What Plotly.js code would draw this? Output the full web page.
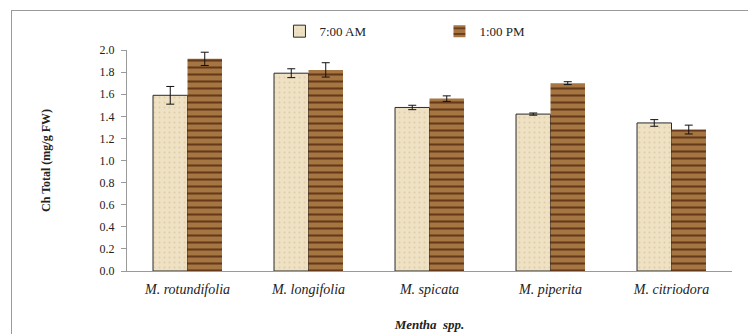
<!DOCTYPE html>
<html>
<head>
<meta charset="utf-8">
<script src="https://cdn.plot.ly/plotly-3.0.1.min.js"></script>
<style>
  html, body { margin: 0; padding: 0; background: #fff; overflow: hidden; }
  #wrap { position: relative; width: 748px; height: 334px; overflow: hidden; }
  #frame { position: absolute; left: 11px; top: 10px; width: 800px; height: 400px; border: 1px solid #9a9a9a; box-sizing: border-box; pointer-events: none; }
  #chart { position: absolute; left: 0; top: 0; width: 748px; height: 334px; }
</style>
</head>
<body>
<div id="wrap">
  <div id="frame"></div>
  <div id="chart"></div>
</div>
<script>
const categories = ["M. rotundifolia", "M. longifolia", "M. spicata", "M. piperita", "M. citriodora"];
const seriesNames = ["7:00 AM", "1:00 PM"];
const am7 = [1.59, 1.79, 1.48, 1.42, 1.34];
const am7Err = [0.08, 0.04, 0.02, 0.01, 0.03];
const pm1 = [1.92, 1.82, 1.56, 1.70, 1.28];
const pm1Err = [0.06, 0.065, 0.025, 0.013, 0.04];
const yTicks = [0, 0.2, 0.4, 0.6, 0.8, 1.0, 1.2, 1.4, 1.6, 1.8, 2.0];

const serif = "Liberation Serif, Times New Roman, serif";

const traces = [
  {
    type: "bar", name: seriesNames[0], x: categories, y: am7,
    marker: { color: "#ecdcbb", line: { color: "#2b2b2b", width: 1 },
      pattern: { shape: ".", fgcolor: "#e0cda8", bgcolor: "#efe1c4", size: 5, solidity: 0.12 } },
    error_y: { type: "data", array: am7Err, visible: true, color: "#111", thickness: 1, width: 4 }
  },
  {
    type: "bar", name: seriesNames[1], x: categories, y: pm1,
    marker: { color: "#9a6434", line: { width: 0 },
      pattern: { shape: "-", fgcolor: "#66391a", bgcolor: "#a67642", size: 7, solidity: 0.3 } },
    error_y: { type: "data", array: pm1Err, visible: true, color: "#111", thickness: 1, width: 4 }
  }
];

const layout = {
  width: 748, height: 334,
  margin: { l: 127, r: 16, t: 50, b: 63 },
  paper_bgcolor: "rgba(0,0,0,0)", plot_bgcolor: "rgba(0,0,0,0)",
  font: { family: serif, color: "#222", size: 12 },
  barmode: "group", bargap: 0.43, bargroupgap: 0,
  showlegend: true,
  legend: {
    orientation: "h", x: 0.252, xanchor: "left", y: 1.085, yanchor: "middle",
    font: { family: serif, size: 13, color: "#222" },
    entrywidth: 115, itemwidth: 30, bgcolor: "rgba(0,0,0,0)"
  },
  xaxis: {
    type: "category", showline: true, linecolor: "#9a9a9a", linewidth: 1,
    ticks: "", showgrid: false, zeroline: false, ticklabelstandoff: 5,
    tickfont: { family: serif, size: 14, style: "italic", color: "#222" },
    title: { text: "<b><i>Mentha  spp.</i></b>", font: { family: serif, size: 13, color: "#222" }, standoff: 24 }
  },
  yaxis: {
    range: [0, 2.0], tickvals: yTicks, ticktext: yTicks.map(v => v.toFixed(1)),
    showline: true, linecolor: "#9a9a9a", linewidth: 1,
    ticks: "outside", ticklen: 5, tickcolor: "#9a9a9a",
    showgrid: false, zeroline: false, ticklabelstandoff: 4,
    tickfont: { family: serif, size: 12, color: "#222" },
    title: { text: "<b>Ch Total (mg/g FW)</b>", font: { family: serif, size: 12, color: "#222" }, standoff: 46 }
  }
};

Plotly.newPlot("chart", traces, layout, { displayModeBar: false, staticPlot: true });
</script>
</body>
</html>
